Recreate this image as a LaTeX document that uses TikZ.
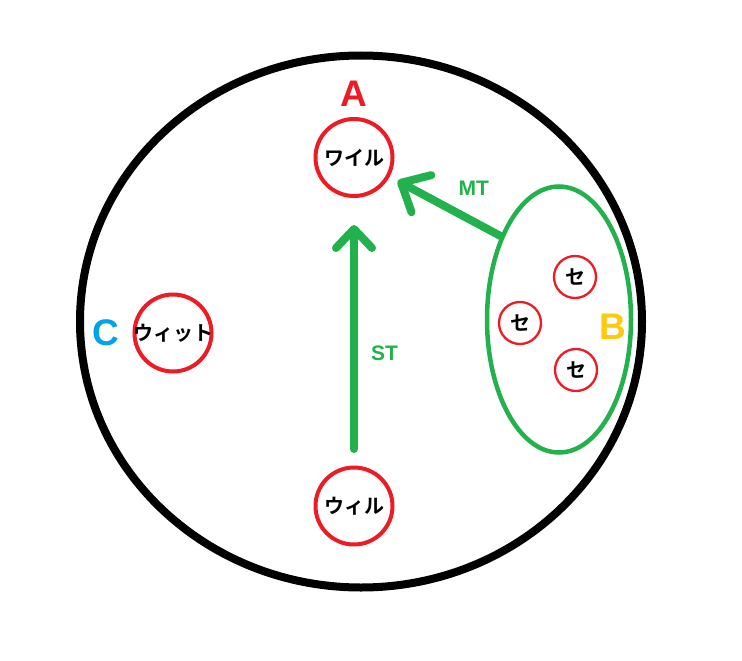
\documentclass[tikz,border=0pt]{standalone}
\usepackage{fontspec}
\setmainfont{Liberation Sans}
\newfontfamily\jpfont{Noto Sans CJK JP}[BoldFont=* Bold]
\usepackage{tikz}
\usetikzlibrary{arrows.meta, positioning, shapes.geometric}
\definecolor{paintred}{HTML}{ED1C24}
\definecolor{paintgreen}{HTML}{22B14C}
\definecolor{paintyellow}{HTML}{FFC90E}
\definecolor{paintblue}{HTML}{00A2E8}

\begin{document}
\begin{tikzpicture}[
  x=1pt, y=-1pt,
  member/.style={draw=paintred, line width=4pt, circle, minimum size=77pt, inner sep=0pt, font=\jpfont\bfseries\fontsize{20}{24}\selectfont},
  cell/.style={draw=paintred, line width=2.3pt, circle, minimum size=42pt, inner sep=0pt, font=\jpfont\bfseries\fontsize{20}{24}\selectfont},
  tag/.style={font=\bfseries\fontsize{37}{40}\selectfont, inner sep=0pt},
  arr/.style={draw=paintgreen, line width=8pt, line cap=round, -{Straight Barb[length=19pt, width=36pt, round]}},
  lbl/.style={text=paintgreen, font=\bfseries\fontsize{21}{24}\selectfont, inner sep=0pt}
]
  \useasboundingbox (0,0) rectangle (742,661);

  % outer world
  \draw[line width=8pt] (361,321.5) ellipse [x radius=281, y radius=266];

  % Will nodes
  \node[member] (wA) at (354,157.5) {ワイル};
  \node[member] (wB) at (354,506) {ウィル};
  \node[member] (wC) at (173,333) {\makebox[0pt]{ウィット}};

  % group B with its cells
  \node[ellipse, draw=paintgreen, line width=4.5pt, minimum width=144pt, minimum height=266pt, inner sep=0pt] (groupB) at (559,319.5) {};
  \node[cell] (se1) at (575,277) {セ};
  \node[cell] (se2) at (520,323) {セ};
  \node[cell] (se3) at (576,370) {セ};

  % tags
  \node[tag, text=paintred, above=10pt of wA] (tagA) {A};
  \node[tag, text=paintyellow] (tagB) at (613,327) {B};
  \node[tag, text=paintblue, left=13pt of wC] (tagC) {C};

  % Arrows
  \draw[arr, shorten <=16.5pt, shorten >=27pt] (wB) -- (wA) node[lbl, pos=0.42, right=13pt] {ST};
  \draw[arr, -{Straight Barb[length=23pt, width=42pt, round]}, shorten >=9pt] (groupB.125) -- (wA) node[lbl, pos=0.45, above right=10pt and 4pt] {MT};
\end{tikzpicture}
\end{document}
